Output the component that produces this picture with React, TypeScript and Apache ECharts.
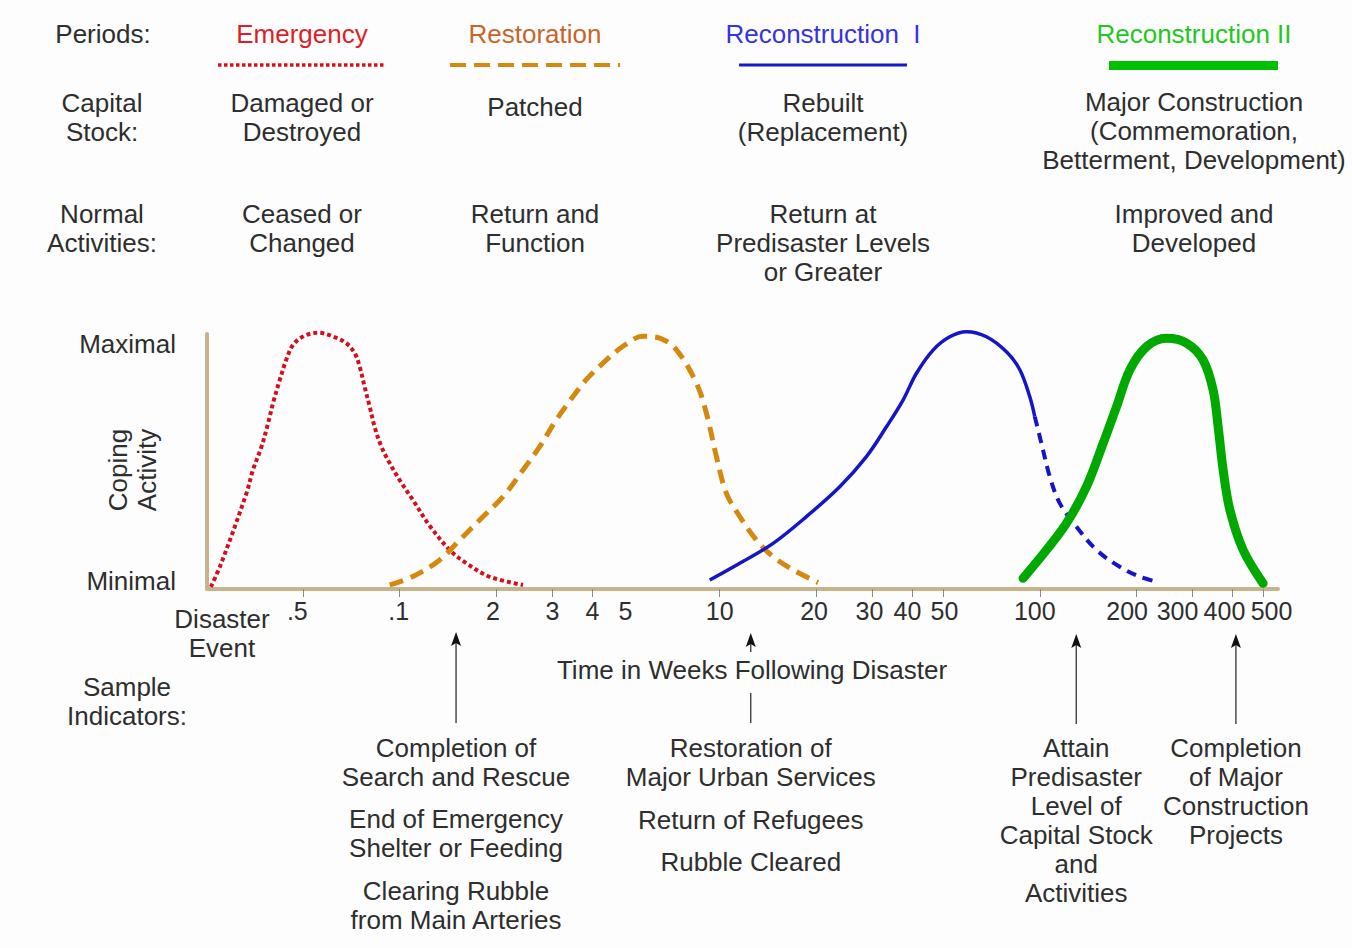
import React, { useEffect, useRef } from "react";
import * as echarts from "echarts";

const FONT = '"Liberation Sans", Arial, Helvetica, sans-serif';
const TEXT = "#2e2e2e";

// x-axis ticks (weeks following disaster, log scale)
const xTickValues = [0.5, 1, 2, 3, 4, 5, 10, 20, 30, 40, 50, 100, 200, 300, 400, 500];
const xTickLabels = [".5", ".1", "2", "3", "4", "5", "10", "20", "30", "40", "50", "100", "200", "300", "400", "500"];
const xTickMarks = [0.5, 1, 2, 3, 4, 10, 20, 30, 40, 50, 100, 200, 300, 400, 500];
const xMin = 0.25;
const xMax = 555;

// y-axis (coping activity, 0 = minimal, 1 = maximal)
const yTickValues = [0.03, 0.96];
const yTickLabels = ["Minimal", "Maximal"];

// curves: [weeks, activity]
const emergency: [number, number][] = [
  [0.257, 0.008], [0.277, 0.101], [0.332, 0.375], [0.348, 0.467], [0.37, 0.558],
  [0.388, 0.65], [0.402, 0.729], [0.422, 0.82], [0.442, 0.898], [0.464, 0.957],
  [0.499, 0.99], [0.555, 1.005], [0.619, 0.99], [0.681, 0.964], [0.724, 0.924],
  [0.75, 0.872], [0.777, 0.793], [0.806, 0.715], [0.835, 0.636], [0.877, 0.558],
  [0.931, 0.493], [1.0, 0.427], [1.1, 0.349], [1.241, 0.248], [1.433, 0.153],
  [1.616, 0.101], [1.911, 0.048], [2.428, 0.016],
];
const restoration: [number, number][] = [
  [0.931, 0.016], [1.1, 0.049], [1.334, 0.114], [1.54, 0.192], [1.778, 0.271],
  [2.103, 0.362], [2.428, 0.467], [2.738, 0.558], [3.088, 0.664], [3.48, 0.755],
  [3.833, 0.822], [4.318, 0.886], [4.986, 0.952], [5.758, 0.991], [6.494, 0.984],
  [7.324, 0.938], [8.457, 0.807], [9.087, 0.689], [9.765, 0.519], [10.49, 0.375],
  [11.55, 0.284], [13.02, 0.192], [14.68, 0.127], [16.95, 0.075], [20.29, 0.025],
];
const reconstruction1Solid: [number, number][] = [
  [9.306, 0.035], [11.55, 0.101], [14.68, 0.179], [18.66, 0.284], [23.71, 0.401],
  [28.73, 0.519], [33.18, 0.636], [37.39, 0.741], [41.18, 0.846], [46.41, 0.937],
  [52.33, 0.989], [59.02, 1.009], [68.13, 0.989], [78.66, 0.93], [86.6, 0.86],
  [93.06, 0.754], [96.46, 0.676],
];
const reconstruction1Dashed: [number, number][] = [
  [96.46, 0.676], [101.2, 0.571], [107.5, 0.44], [115.5, 0.336], [130.2, 0.244],
  [150.4, 0.153], [177.8, 0.087], [205.4, 0.048], [231.6, 0.029],
];
const reconstruction2: [number, number][] = [
  [88.67, 0.042], [104.9, 0.153], [121.2, 0.258], [139.9, 0.401], [157.7, 0.571],
  [173.7, 0.715], [191.1, 0.859], [215.5, 0.95], [248.8, 0.983], [287.3, 0.964],
  [323.8, 0.898], [348.0, 0.78], [360.8, 0.636], [374.0, 0.467], [392.6, 0.31],
  [431.9, 0.153], [498.6, 0.022],
];

// sample indicators (weeks at which arrows point)
const indicatorWeeks = [1.5, 12.5, 130, 410];

const periodNames = ["Emergency", "Restoration", "Reconstruction  I", "Reconstruction II"];
const periodColors = ["#e01e26", "#c8642a", "#3434e0", "#22c822"];
const capitalStock = ["Damaged or\nDestroyed", "Patched", "Rebuilt\n(Replacement)", "Major Construction\n(Commemoration,\nBetterment, Development)"];
const normalActivities = ["Ceased or\nChanged", "Return and\nFunction", "Return at\nPredisaster Levels\nor Greater", "Improved and\nDeveloped"];

// layout: horizontal nudge (px) of each x tick label relative to its value
const xLabelNudge = [-6, -1, -3, 0, 0, 2, 0, -2, -3, -5, 1, -5, -9, -15, -8, 8];

function txt(text: string, x: number, y: number, opts: any = {}) {
  return {
    type: "text",
    x,
    y,
    rotation: opts.rotation || 0,
    style: {
      text,
      fill: opts.fill || TEXT,
      font: `${opts.size || 26}px ${FONT}`,
      fontSize: opts.size || 26,
      fontFamily: FONT,
      align: opts.align || "center",
      textAlign: opts.align || "center",
      verticalAlign: "middle",
      textVerticalAlign: "middle",
      lineHeight: opts.lineHeight || 29,
    },
  };
}

function arrow(x: number, tip: number, bottom: number) {
  return [
    { type: "line", shape: { x1: x, y1: tip + 10, x2: x, y2: bottom }, style: { stroke: "#333", lineWidth: 1.3 } },
    { type: "polygon", shape: { points: [[x, tip], [x - 5, tip + 14], [x, tip + 11], [x + 5, tip + 14]] }, style: { fill: "#111" } },
  ];
}

function buildGraphic(ax: number[]) {
  const colX = [302, 535, 823, 1194];
  const els: any[] = [];
  els.push(txt("Periods:", 103, 34));
  els.push(txt("Capital\nStock:", 102, 117));
  els.push(txt("Normal\nActivities:", 102, 228));
  periodNames.forEach((n, i) => els.push(txt(n, colX[i], 34, { fill: periodColors[i] })));
  const capY = [117, 107, 117, 131];
  capitalStock.forEach((t, i) => els.push(txt(t, colX[i], capY[i])));
  const actY = [228, 228, 243, 228];
  normalActivities.forEach((t, i) => els.push(txt(t, colX[i], actY[i])));
  // header line samples
  els.push({ type: "line", shape: { x1: 218, y1: 65, x2: 385, y2: 65 }, style: { stroke: "#d8101c", lineWidth: 3.5, lineDash: [3.5, 2.5] } });
  els.push({ type: "line", shape: { x1: 450, y1: 65, x2: 620, y2: 65 }, style: { stroke: "#d4880e", lineWidth: 4, lineDash: [16, 8] } });
  els.push({ type: "line", shape: { x1: 739, y1: 65, x2: 907, y2: 65 }, style: { stroke: "#1818cc", lineWidth: 3 } });
  els.push({ type: "rect", shape: { x: 1109, y: 61, width: 169, height: 9 }, style: { fill: "#00c000" } });

  // axis captions
  els.push(txt("Coping\nActivity", 132, 470, { rotation: Math.PI / 2 }));
  els.push(txt("Disaster\nEvent", 222, 633));
  els.push(txt("Sample\nIndicators:", 127, 701));
  els.push(txt("Time in Weeks Following Disaster", 752, 670));

  // arrows + indicator texts
  els.push(...arrow(ax[0], 632, 723));
  els.push(...arrow(ax[1], 633, 652));
  els.push({ type: "line", shape: { x1: ax[1], y1: 693, x2: ax[1], y2: 723 }, style: { stroke: "#333", lineWidth: 1.3 } });
  els.push(...arrow(ax[2], 634, 724));
  els.push(...arrow(ax[3], 634, 724));

  els.push(txt("Completion of\nSearch and Rescue", ax[0], 762));
  els.push(txt("End of Emergency\nShelter or Feeding", ax[0], 833));
  els.push(txt("Clearing Rubble\nfrom Main Arteries", ax[0], 905));
  els.push(txt("Restoration of\nMajor Urban Services", ax[1], 762));
  els.push(txt("Return of Refugees", ax[1], 820));
  els.push(txt("Rubble Cleared", ax[1], 862));
  els.push(txt("Attain\nPredisaster\nLevel of\nCapital Stock\nand\nActivities", ax[2], 820));
  els.push(txt("Completion\nof Major\nConstruction\nProjects", ax[3], 791));
  return els;
}

function findIndex(values: number[], v: number) {
  return values.findIndex((t) => Math.abs(t - v) <= Math.abs(t) * 1e-3 + 1e-9);
}

export default function App() {
  const ref = useRef<HTMLDivElement>(null);
  useEffect(() => {
    document.body.style.margin = "0";
    const chart = echarts.init(ref.current!, null, { renderer: "svg" });
    const rich: any = {};
    xLabelNudge.forEach((s, i) => {
      rich["l" + i] = {
        fontSize: 25,
        fontFamily: FONT,
        color: TEXT,
        padding: [0, s < 0 ? -2 * s : 0, 0, s > 0 ? 2 * s : 0],
      };
    });
    const option: any = {
      animation: false,
      backgroundColor: "#fdfdfd",
      textStyle: { fontFamily: FONT },
      grid: { left: 207, right: 74, top: 334, bottom: 359, containLabel: false, outerBoundsMode: "none" },
      xAxis: {
        type: "log",
        logBase: 10,
        min: xMin,
        max: xMax,
        axisLine: { show: true, lineStyle: { color: "#c8b48c", width: 4 } },
        axisTick: { show: true, customValues: xTickMarks, length: 8, lineStyle: { color: "#8a8a8a", width: 1 } },
        axisLabel: {
          show: true,
          customValues: xTickValues,
          hideOverlap: false,
          formatter: (v: number) => {
            const i = findIndex(xTickValues, v);
            return i >= 0 ? `{l${i}|${xTickLabels[i]}}` : "";
          },
          rich,
          color: TEXT,
          fontSize: 25,
          fontFamily: FONT,
          margin: 9,
        },
        splitLine: { show: false },
        minorTick: { show: false },
        minorSplitLine: { show: false },
      },
      yAxis: {
        type: "value",
        min: 0,
        max: 1,
        axisLine: { show: true, lineStyle: { color: "#c8b48c", width: 4 } },
        axisTick: { show: false },
        axisLabel: {
          show: true,
          customValues: yTickValues,
          formatter: (v: number) => {
            const i = findIndex(yTickValues, v);
            return i >= 0 ? yTickLabels[i] : "";
          },
          color: TEXT,
          fontSize: 26,
          fontFamily: FONT,
          margin: 31,
        },
        splitLine: { show: false },
      },
      series: [
        {
          name: "Emergency", type: "line", data: emergency, smooth: 0.35, showSymbol: false, clip: false, z: 3,
          lineStyle: { color: "#d40f1c", width: 4, type: [4, 3] },
        },
        {
          name: "Restoration", type: "line", data: restoration, smooth: 0.35, showSymbol: false, clip: false, z: 3,
          lineStyle: { color: "#d4880e", width: 5, type: [14, 8] },
        },
        {
          name: "Reconstruction I", type: "line", data: reconstruction1Solid, smooth: 0.35, showSymbol: false, clip: false, z: 3,
          lineStyle: { color: "#1414c8", width: 3.5 },
        },
        {
          name: "Reconstruction I (tail)", type: "line", data: reconstruction1Dashed, smooth: 0.35, showSymbol: false, clip: false, z: 3,
          lineStyle: { color: "#1414c8", width: 4, type: [10, 7] },
        },
        {
          name: "Reconstruction II", type: "line", data: reconstruction2, smooth: 0.35, showSymbol: false, clip: false, z: 4,
          lineStyle: { color: "#00a800", width: 9, cap: "round", join: "round" },
        },
      ],
    };
    chart.setOption(option);
    const ax = indicatorWeeks.map((w) => chart.convertToPixel({ xAxisIndex: 0 }, w) as number);
    chart.setOption({ graphic: buildGraphic(ax) });
    return () => chart.dispose();
  }, []);
  return <div ref={ref} style={{ width: 1352, height: 948 }} />;
}
